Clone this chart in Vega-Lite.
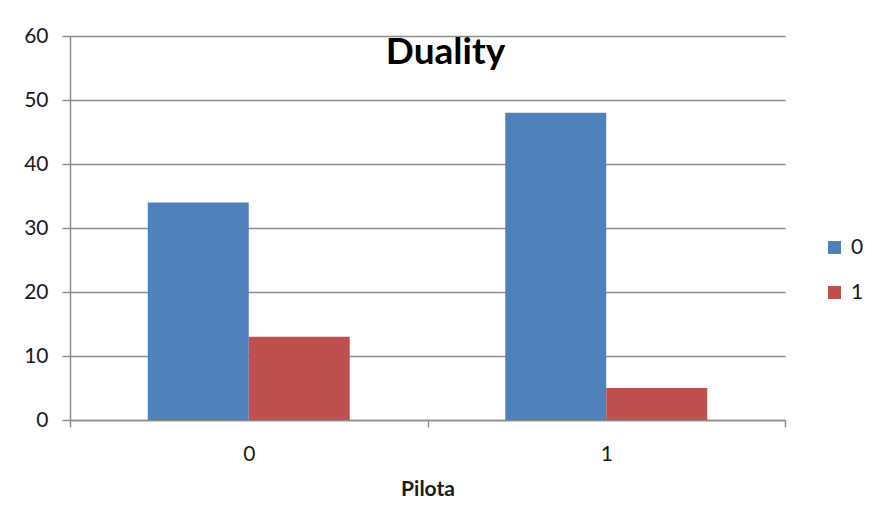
{
  "$schema": "https://vega.github.io/schema/vega-lite/v6.json",
  "width": 715,
  "height": 384,
  "autosize": {"type": "none"},
  "padding": {"left": 70, "top": 36, "right": 87, "bottom": 106},
  "background": "white",
  "title": {
    "text": "Duality",
    "font": "Lato",
    "fontSize": 37,
    "fontWeight": "bold",
    "color": "#000000",
    "anchor": "middle",
    "dx": 18,
    "dy": 45,
    "baseline": "alphabetic",
    "offset": -31
  },
  "data": {
    "values": [
      {"Pilota": "0", "Duality": "0", "count": 34},
      {"Pilota": "0", "Duality": "1", "count": 13},
      {"Pilota": "1", "Duality": "0", "count": 48},
      {"Pilota": "1", "Duality": "1", "count": 5}
    ]
  },
  "mark": {"type": "bar"},
  "encoding": {
    "x": {
      "field": "Pilota",
      "type": "nominal",
      "scale": {"paddingInner": 0, "paddingOuter": 0},
      "axis": {
        "title": "Pilota",
        "labelAngle": 0,
        "tickBand": "extent",
        "tickSize": 7,
        "labelPadding": 16,
        "titlePadding": 14,
        "labelFontSize": 21,
        "titleFontSize": 21,
        "titleFontWeight": "bold"
      }
    },
    "xOffset": {"field": "Duality", "type": "nominal", "scale": {"paddingInner": 0, "paddingOuter": 0.77}},
    "y": {
      "field": "count",
      "type": "quantitative",
      "scale": {"domain": [0, 60], "nice": false},
      "axis": {
        "title": null,
        "values": [0, 10, 20, 30, 40, 50, 60],
        "tickSize": 8,
        "labelPadding": 14,
        "labelFontSize": 21
      }
    },
    "color": {
      "field": "Duality",
      "type": "nominal",
      "scale": {"domain": ["0", "1"], "range": ["#4F81BD", "#C0504D"]},
      "legend": {
        "title": null,
        "orient": "none",
        "legendX": 754,
        "legendY": 201,
        "symbolType": "square",
        "symbolSize": 169,
        "symbolStrokeWidth": 0,
        "labelFontSize": 21,
        "labelOffset": 6,
        "rowPadding": 23,
        "padding": 0
      }
    }
  },
  "config": {
    "font": "Lato",
    "view": {"stroke": null},
    "axis": {
      "labelFont": "Lato",
      "titleFont": "Lato",
      "labelColor": "#1a1a1a",
      "titleColor": "#1a1a1a",
      "domainColor": "#8c8c8c",
      "tickColor": "#8c8c8c",
      "gridColor": "#8c8c8c",
      "domainWidth": 1.5,
      "tickWidth": 1.5,
      "gridWidth": 1.5
    },
    "axisX": {"grid": false},
    "axisY": {"grid": true},
    "legend": {"labelFont": "Lato", "labelColor": "#1a1a1a"}
  }
}
